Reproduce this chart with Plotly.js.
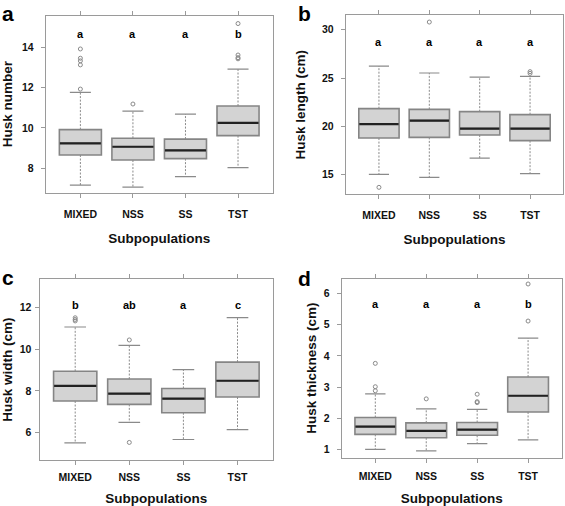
<!DOCTYPE html>
<html>
<head>
<meta charset="utf-8">
<script src="https://cdn.plot.ly/plotly-3.0.1.min.js"></script>
<style>html,body{margin:0;padding:0;background:#fff;}#chart{width:565px;height:506px;}</style>
</head>
<body>
<div id="chart"></div>
<script>
// ---- Data ----
const categories = ['MIXED', 'NSS', 'SS', 'TST'];
const catPos = [1, 2, 3, 4];

// (a) Husk number
const numQ1 = [8.66, 8.41, 8.48, 9.62];
const numMedian = [9.24, 9.07, 8.89, 10.25];
const numQ3 = [9.92, 9.49, 9.45, 11.09];
const numLower = [7.17, 7.07, 7.59, 8.03];
const numUpper = [11.77, 10.84, 10.69, 12.92];
const numOutliers = [[11.93, 13.13, 13.33, 13.46, 13.92], [11.19], [], [13.43, 13.49, 13.62, 15.18]];
const numLetters = ['a', 'a', 'a', 'b'];
const numLetterY = 14.64;
const numTicks = [8, 10, 12, 14];

// (b) Husk length (cm)
const lenQ1 = [18.79, 18.86, 19.10, 18.52];
const lenMedian = [20.24, 20.59, 19.76, 19.76];
const lenQ3 = [21.83, 21.76, 21.52, 21.21];
const lenLower = [15.03, 14.72, 16.72, 15.10];
const lenUpper = [26.24, 25.52, 25.10, 25.17];
const lenOutliers = [[13.69], [30.79], [], [25.48, 25.66]];
const lenLetters = ['a', 'a', 'a', 'a'];
const lenLetterY = 28.69;
const lenTicks = [15, 20, 25, 30];

// (c) Husk width (cm)
const widQ1 = [7.52, 7.36, 6.96, 7.71];
const widMedian = [8.24, 7.87, 7.63, 8.49];
const widQ3 = [8.94, 8.57, 8.12, 9.38];
const widLower = [5.52, 6.50, 5.68, 6.15];
const widUpper = [11.06, 10.18, 9.02, 11.51];
const widOutliers = [[11.35, 11.42, 11.50], [5.54, 10.44], [], []];
const widLetters = ['b', 'ab', 'a', 'c'];
const widLetterY = 12.11;
const widTicks = [6, 8, 10, 12];

// (d) Husk thickness (cm)
const thkQ1 = [1.48, 1.37, 1.45, 2.20];
const thkMedian = [1.73, 1.59, 1.63, 2.72];
const thkQ3 = [2.02, 1.85, 1.86, 3.32];
const thkLower = [1.00, 0.95, 1.18, 1.30];
const thkUpper = [2.78, 2.30, 2.28, 4.57];
const thkOutliers = [[2.88, 3.01, 3.76], [2.62], [2.50, 2.53, 2.77], [5.12, 6.31]];
const thkLetters = ['a', 'a', 'a', 'b'];
const thkLetterY = 5.67;
const thkTicks = [1, 2, 3, 4, 5, 6];

const panelLabels = ['a', 'b', 'c', 'd'];
const yTitles = ['Husk number', 'Husk length (cm)', 'Husk width (cm)', 'Husk thickness (cm)'];
const xTitle = 'Subpopulations';

// ---- Styling ----
const FONT = 'Liberation Sans, Arial, Helvetica, sans-serif';
const frameColor = '#9a9a9a';
const boxLine = '#858585';
const boxFill = '#d3d3d3';
const whiskerColor = '#8a8a8a';
const BOXW = 0.8, CAPW = 0.4;

const traces = [];
const annotations = [];

function addPanel(k, q1, med, q3, lo, hi, outs, letters, letterY) {
  const xa = k === 0 ? 'x' : 'x' + (k + 1);
  const ya = k === 0 ? 'y' : 'y' + (k + 1);
  // whiskers (dashed)
  const wx = [], wy = [];
  catPos.forEach((p, i) => {
    wx.push(p, p, null, p, p, null);
    wy.push(q3[i], hi[i], null, q1[i], lo[i], null);
  });
  traces.push({type: 'scatter', mode: 'lines', x: wx, y: wy, xaxis: xa, yaxis: ya,
    line: {color: whiskerColor, width: 1, dash: '2px,1.5px'}, hoverinfo: 'skip', showlegend: false});
  // whisker caps
  const cx = [], cy = [];
  catPos.forEach((p, i) => {
    cx.push(p - CAPW / 2, p + CAPW / 2, null, p - CAPW / 2, p + CAPW / 2, null);
    cy.push(hi[i], hi[i], null, lo[i], lo[i], null);
  });
  traces.push({type: 'scatter', mode: 'lines', x: cx, y: cy, xaxis: xa, yaxis: ya,
    line: {color: whiskerColor, width: 1.2}, hoverinfo: 'skip', showlegend: false});
  // boxes
  traces.push({type: 'box', x: catPos, q1: q1, median: med, q3: q3, width: BOXW,
    xaxis: xa, yaxis: ya, fillcolor: boxFill, line: {color: boxLine, width: 1.6},
    boxpoints: false, whiskerwidth: 0, hoverinfo: 'skip', showlegend: false});
  // medians (black)
  const mx = [], my = [];
  catPos.forEach((p, i) => {
    mx.push(p - BOXW / 2 + 0.01, p + BOXW / 2 - 0.01, null);
    my.push(med[i], med[i], null);
  });
  traces.push({type: 'scatter', mode: 'lines', x: mx, y: my, xaxis: xa, yaxis: ya,
    line: {color: '#222222', width: 2.2}, hoverinfo: 'skip', showlegend: false});
  // outliers
  const ox = [], oy = [];
  outs.forEach((arr, i) => arr.forEach(v => { ox.push(catPos[i]); oy.push(v); }));
  traces.push({type: 'scatter', mode: 'markers', x: ox, y: oy, xaxis: xa, yaxis: ya,
    marker: {symbol: 'circle-open', size: 4, color: '#8a8a8a', line: {width: 1, color: '#8a8a8a'}},
    hoverinfo: 'skip', showlegend: false});
  // significance letters
  letters.forEach((t, i) => {
    annotations.push({xref: xa, yref: ya, x: catPos[i], y: letterY, text: t, showarrow: false,
      xanchor: 'center', yanchor: 'middle', font: {family: FONT, size: 11, color: '#000', weight: 'bold'}});
  });
}

addPanel(0, numQ1, numMedian, numQ3, numLower, numUpper, numOutliers, numLetters, numLetterY);
addPanel(1, lenQ1, lenMedian, lenQ3, lenLower, lenUpper, lenOutliers, lenLetters, lenLetterY);
addPanel(2, widQ1, widMedian, widQ3, widLower, widUpper, widOutliers, widLetters, widLetterY);
addPanel(3, thkQ1, thkMedian, thkQ3, thkLower, thkUpper, thkOutliers, thkLetters, thkLetterY);

const W = 565, H = 506;
// frames in pixels: [left, right, top, bottom]
const frames = [[45.7, 272.7, 15.7, 192.7], [345.7, 563.3, 15, 194.3], [39.5, 273.2, 279.3, 460], [341.7, 561.7, 278.7, 457.7]];
const yRanges = [[6.79, 15.57], [12.97, 31.52], [4.70, 13.34], [0.73, 6.48]];
const yTickSets = [numTicks, lenTicks, widTicks, thkTicks];
const xLabelStandoff = [8, 7, 3, 5];
const xTitleStandoff = [14, 14, 13, 12];
const yLabelStandoff = [5, 5, 1, 5];
const yTitleStandoff = [10, 13, 6, 4];

const layout = {
  width: W, height: H, margin: {l: 0, r: 0, t: 0, b: 0},
  paper_bgcolor: '#ffffff', plot_bgcolor: '#ffffff', showlegend: false,
  font: {family: FONT, color: '#000'},
  annotations: annotations
};

frames.forEach((f, k) => {
  const sx = k === 0 ? '' : String(k + 1);
  layout['xaxis' + sx] = {
    domain: [f[0] / W, f[1] / W], anchor: 'y' + sx, range: [0.34, 4.66],
    tickvals: catPos, ticktext: categories, showgrid: false, zeroline: false,
    showline: true, linecolor: frameColor, linewidth: 1, mirror: 'ticks',
    ticks: 'outside', ticklen: 4, tickcolor: frameColor, tickwidth: 1,
    ticklabelstandoff: xLabelStandoff[k],
    tickfont: {family: FONT, size: 10.5, color: '#111', weight: 'bold'},
    title: {text: xTitle, standoff: xTitleStandoff[k], font: {family: FONT, size: 13.5, color: '#111', weight: 'bold'}},
    fixedrange: true
  };
  layout['yaxis' + sx] = {
    domain: [1 - f[3] / H, 1 - f[2] / H], anchor: 'x' + sx, range: yRanges[k],
    tickvals: yTickSets[k], showgrid: false, zeroline: false,
    showline: true, linecolor: frameColor, linewidth: 1, mirror: true,
    ticks: 'outside', ticklen: 4, tickcolor: frameColor, tickwidth: 1,
    ticklabelstandoff: yLabelStandoff[k],
    tickfont: {family: FONT, size: 10.5, color: '#111', weight: 'bold'},
    title: {text: yTitles[k], standoff: yTitleStandoff[k], font: {family: FONT, size: 13.5, color: '#111', weight: 'bold'}},
    fixedrange: true
  };
});

// panel letters: [x px, y px, anchor]
const letterPos = [[0, 0, 'top'], [296, 0, 'top'], [0, 291, 'bottom'], [296, 292, 'bottom']];
panelLabels.forEach((t, k) => {
  annotations.push({xref: 'paper', yref: 'paper', x: letterPos[k][0] / W, y: 1 - letterPos[k][1] / H,
    xanchor: 'left', yanchor: letterPos[k][2], text: t, showarrow: false,
    font: {family: FONT, size: 21, color: '#000', weight: 'bold'}});
});

Plotly.newPlot('chart', traces, layout, {staticPlot: true, displayModeBar: false});
</script>
</body>
</html>
